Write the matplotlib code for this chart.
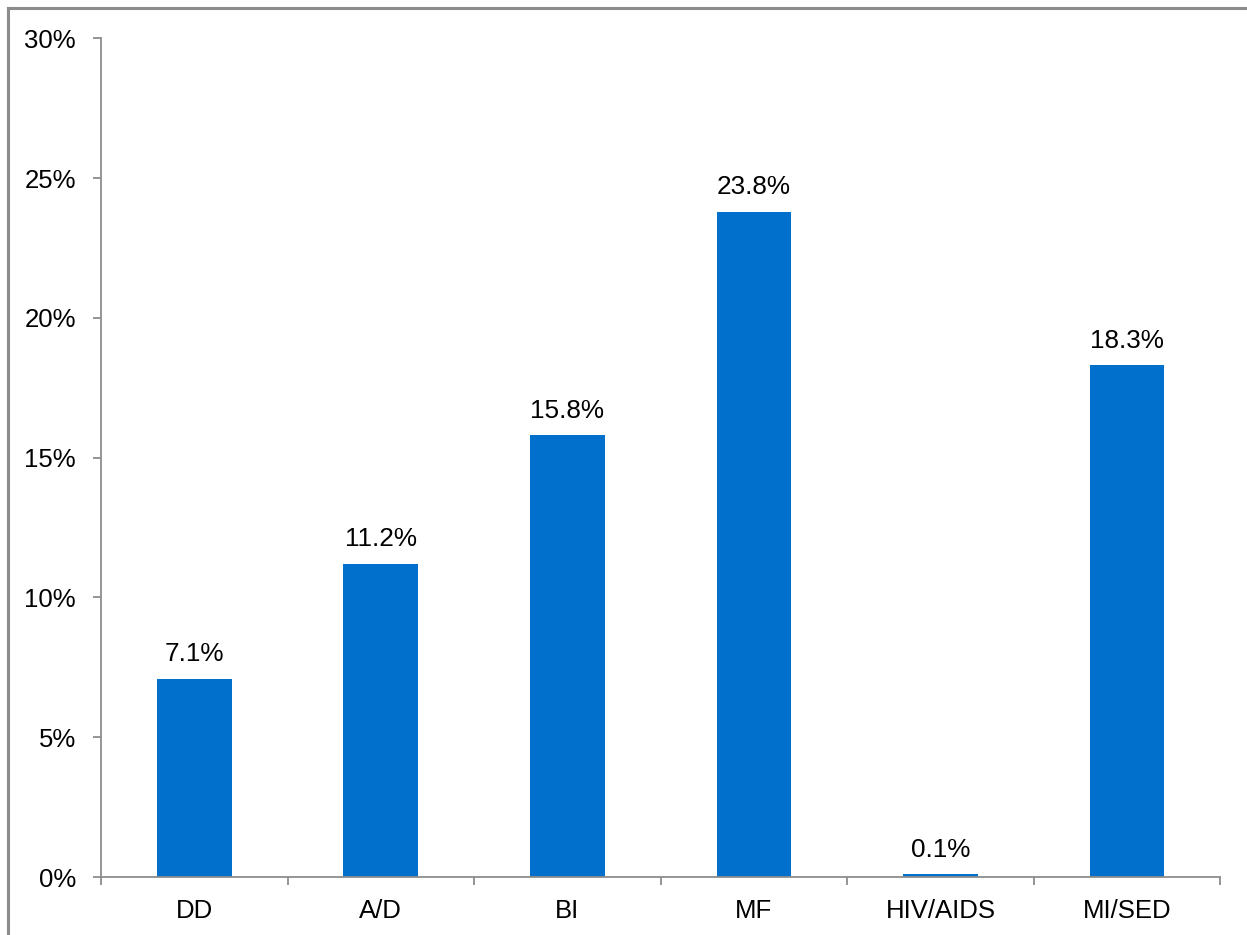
import numpy as np
import matplotlib
matplotlib.use("Agg")
import matplotlib.pyplot as plt
from matplotlib.lines import Line2D
from matplotlib.ticker import FuncFormatter

plt.rcParams['font.family'] = ['Liberation Sans', 'DejaVu Sans']

categories = ['DD', 'A/D', 'BI', 'MF', 'HIV/AIDS', 'MI/SED']
shares = [7.1, 11.2, 15.8, 23.8, 0.1, 18.3]

bar_color = '#0070CC'
axis_gray = '#8C8C8C'

fig = plt.figure(figsize=(12.47, 9.35), dpi=100)
ax = fig.add_axes([0.081, 0.062, 0.8975, 0.897])

x = np.arange(len(categories))
bars = ax.bar(x, shares, width=0.4, color=bar_color, zorder=2)

for b, v in zip(bars, shares):
    ax.annotate(f'{v:.1f}%', (b.get_x() + b.get_width() / 2, v),
                xytext=(0, 9), textcoords='offset points',
                ha='center', va='bottom', fontsize=18.8)

ax.set_xlim(-0.5, len(categories) - 0.5)
ax.set_ylim(0, 30)
ax.set_yticks(np.arange(0, 31, 5))
ax.yaxis.set_major_formatter(FuncFormatter(lambda v, _: f'{v:.0f}%'))

ax.set_xticks(x)
ax.set_xticklabels(categories)
ax.set_xticks(np.arange(-0.5, len(categories)), minor=True)
ax.tick_params(axis='x', which='major', length=0, pad=16, labelsize=18.5)
ax.tick_params(axis='x', which='minor', length=6, width=1.3, color=axis_gray, direction='out')
ax.tick_params(axis='y', length=6, width=1.3, color=axis_gray, direction='out', pad=12, labelsize=18.5)

for side in ['top', 'right']:
    ax.spines[side].set_visible(False)
for side in ['left', 'bottom']:
    ax.spines[side].set_color(axis_gray)
    ax.spines[side].set_linewidth(1.3)

# outer frame along the top and left edges
fx = 8 / 1247
fy = 1 - 8 / 935
fig.add_artist(Line2D([fx, 1.0], [fy, fy], transform=fig.transFigure, color=axis_gray, lw=2.2))
fig.add_artist(Line2D([fx, fx], [0.0, fy], transform=fig.transFigure, color=axis_gray, lw=2.2))

fig.savefig('out.png', dpi=100)
